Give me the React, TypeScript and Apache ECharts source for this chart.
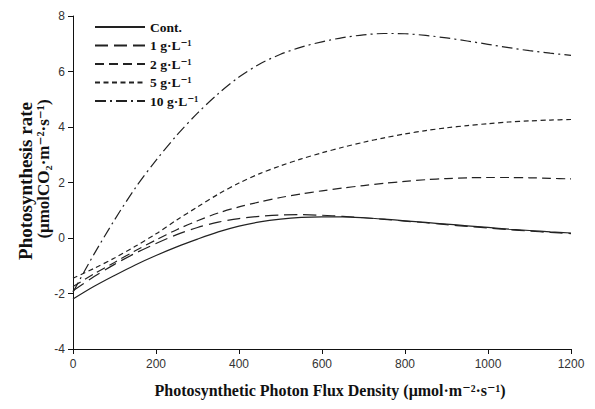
import React, { useEffect, useRef } from "react";
import * as echarts from "echarts";

const xValues = [0, 50, 100, 150, 200, 250, 300, 350, 400, 450, 500, 550, 600, 650, 700, 750, 800, 850, 900, 950, 1000, 1050, 1100, 1150, 1200];
const seriesNames = ["Cont.", "1 g·L⁻¹", "2 g·L⁻¹", "5 g·L⁻¹", "10 g·L⁻¹"];
const contValues = [-2.2, -1.75, -1.35, -0.97, -0.63, -0.32, -0.04, 0.22, 0.43, 0.58, 0.68, 0.74, 0.76, 0.76, 0.73, 0.68, 0.62, 0.56, 0.5, 0.44, 0.38, 0.32, 0.27, 0.22, 0.18];
const g1Values = [-1.9, -1.4, -0.95, -0.55, -0.2, 0.12, 0.38, 0.57, 0.7, 0.78, 0.83, 0.84, 0.82, 0.78, 0.73, 0.67, 0.61, 0.55, 0.48, 0.42, 0.36, 0.3, 0.25, 0.2, 0.16];
const g2Values = [-1.75, -1.3, -0.88, -0.46, -0.07, 0.3, 0.62, 0.9, 1.12, 1.3, 1.46, 1.59, 1.7, 1.8, 1.89, 1.97, 2.04, 2.1, 2.14, 2.17, 2.18, 2.18, 2.17, 2.15, 2.13];
const g5Values = [-1.45, -1.1, -0.72, -0.3, 0.15, 0.65, 1.12, 1.58, 1.98, 2.32, 2.6, 2.85, 3.07, 3.27, 3.45, 3.61, 3.75, 3.87, 3.97, 4.05, 4.12, 4.18, 4.22, 4.25, 4.27];
const g10Values = [-1.95, -0.6, 0.65, 1.8, 2.8, 3.7, 4.5, 5.2, 5.8, 6.27, 6.62, 6.88, 7.07, 7.22, 7.32, 7.37, 7.36, 7.3, 7.21, 7.1, 6.98, 6.86, 6.75, 6.66, 6.58];
const yTicks = [-4, -2, 0, 2, 4, 6, 8];
const xTicks = [0, 200, 400, 600, 800, 1000, 1200];

const allValues = [contValues, g1Values, g2Values, g5Values, g10Values];
const dashTypes: any[] = ["solid", [13, 6], [9, 5], [5, 3.5], [11, 4, 2, 4]];

export default function App() {
  const ref = useRef<HTMLDivElement>(null);
  useEffect(() => {
    document.body.style.margin = "0";
    if (!ref.current) return;
    const chart = echarts.init(ref.current, undefined, { renderer: "svg" });
    const serif = "'Liberation Serif', 'DejaVu Serif', serif";
    const sans = "'Liberation Sans', Arial, sans-serif";
    chart.setOption({
      animation: false,
      backgroundColor: "#ffffff",
      grid: { left: 73, right: 24, top: 16, bottom: 60 },
      legend: {
        left: 89,
        top: 15,
        orient: "vertical",
        itemWidth: 50,
        itemHeight: 14,
        itemGap: 4.5,
        data: seriesNames,
        itemStyle: { opacity: 0 },
        textStyle: { fontFamily: serif, fontWeight: "bold", fontSize: 13.5, color: "#111" },
      },
      xAxis: {
        type: "value",
        min: xTicks[0],
        max: xTicks[xTicks.length - 1],
        interval: 200,
        axisLine: { onZero: false, lineStyle: { color: "#111", width: 1 } },
        axisTick: { show: true, inside: false, length: 5, lineStyle: { color: "#111" } },
        axisLabel: { fontFamily: sans, fontSize: 12, color: "#333", margin: 9, formatter: (v: number) => String(v) },
        splitLine: { show: false },
      },
      yAxis: {
        type: "value",
        min: yTicks[0],
        max: yTicks[yTicks.length - 1],
        interval: 2,
        axisLine: { show: true, onZero: false, lineStyle: { color: "#111", width: 1 } },
        axisTick: { show: true, inside: false, length: 5, lineStyle: { color: "#111" } },
        axisLabel: { fontFamily: sans, fontSize: 12, color: "#333", margin: 8, formatter: (v: number) => String(v) },
        splitLine: { show: false },
      },
      graphic: [
        {
          type: "text",
          x: 25,
          y: 181,
          rotation: Math.PI / 2,
          style: {
            text: "Photosynthesis rate",
            fontFamily: serif,
            fontWeight: "bold",
            fontSize: 19,
            fill: "#111",
            align: "center",
            verticalAlign: "middle",
          },
        },
        {
          type: "text",
          x: 43,
          y: 169,
          rotation: Math.PI / 2,
          style: {
            text: "(μmolCO₂·m⁻²·s⁻¹)",
            fontFamily: serif,
            fontWeight: "bold",
            fontSize: 17,
            fill: "#111",
            align: "center",
            verticalAlign: "middle",
          },
        },
        {
          type: "text",
          x: 330,
          y: 390,
          style: {
            text: "Photosynthetic Photon Flux Density (μmol·m⁻²·s⁻¹)",
            fontFamily: serif,
            fontWeight: "bold",
            fontSize: 16,
            fill: "#111",
            align: "center",
            verticalAlign: "middle",
          },
        },
      ],
      series: seriesNames.map((name, i) => ({
        name,
        type: "line",
        smooth: 0.3,
        symbol: "none",
        data: xValues.map((x, j) => [x, allValues[i][j]]),
        lineStyle: { color: "#222", width: 1.2, type: dashTypes[i] },
        itemStyle: { color: "#222" },
      })),
    });
    return () => chart.dispose();
  }, []);
  return <div ref={ref} style={{ width: 595, height: 409 }} />;
}
